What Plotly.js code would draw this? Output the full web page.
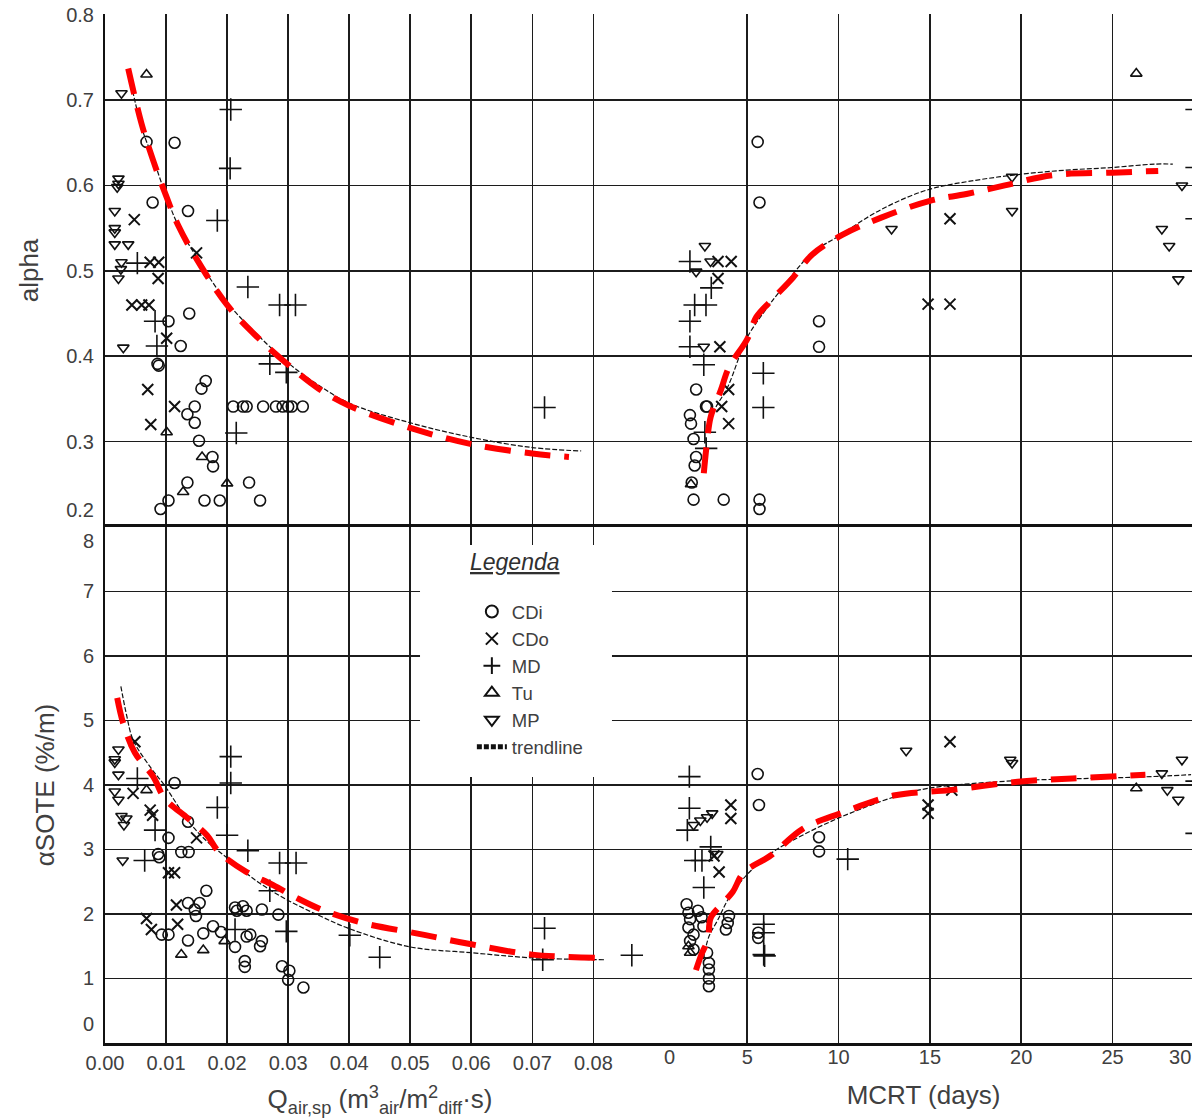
<!DOCTYPE html>
<html>
<head>
<meta charset="utf-8">
<script src="https://cdn.plot.ly/plotly-3.0.1.min.js"></script>
<style>html,body{margin:0;padding:0;background:#fff;overflow:hidden}#chart{width:1192px;height:1118px}</style>
</head>
<body>
<div id="chart"></div>
<script>
// ---------- tick labels ----------
var qTickVals = [0, 0.01, 0.02, 0.03, 0.04, 0.05, 0.06, 0.07, 0.08, 0.09];
var qTickText = ['0.00','0.01','0.02','0.03','0.04','0.05','0.06','0.07','0.08',' '];
var mcrtGridVals = [0, 5, 10, 15, 20, 25];
var mcrtLabelVals = [0.75, 5, 10, 15, 20, 25, 28.7];
var mcrtLabelText = ['0','5','10','15','20','25','30'];
var alphaGridVals = [0.2, 0.3, 0.4, 0.5, 0.6, 0.7, 0.8];
var alphaLabelVals = [0.22, 0.3, 0.4, 0.5, 0.6, 0.7, 0.8];
var alphaLabelText = ['0.2','0.3','0.4','0.5','0.6','0.7','0.8'];
var soteGridVals = [0, 1, 2, 3, 4, 5, 6, 7, 8];
var soteLabelVals = [0.3, 1, 2, 3, 4, 5, 6, 7, 7.78];
var soteLabelText = ['0','1','2','3','4','5','6','7','8'];

// ---------- series names ----------
var seriesNames = ['CDi', 'CDo', 'MD', 'Tu', 'MP'];
var legendTitle = 'Legenda';

// ---------- alpha vs Q (top left) ----------
var tl_CDi_x = [0.0068,0.0114,0.0078,0.0136,0.0104,0.0138,0.0124,0.0086,0.0088,0.0165,0.0158,0.0147,0.0135,0.0147,0.0154,0.0176,0.0177,0.0135,0.0236,0.0104,0.0091,0.0163,0.0188,0.0254,0.0210,0.0226,0.0232,0.0259,0.0280,0.0291,0.0300,0.0306,0.0324];
var tl_CDi_y = [0.651,0.650,0.580,0.570,0.441,0.450,0.412,0.391,0.389,0.371,0.362,0.341,0.332,0.322,0.301,0.282,0.271,0.252,0.252,0.231,0.221,0.231,0.231,0.231,0.341,0.341,0.341,0.341,0.341,0.341,0.341,0.341,0.341];
var tl_CDo_x = [0.0048,0.0074,0.0088,0.0087,0.0150,0.0044,0.0060,0.0072,0.0101,0.0070,0.0114,0.0075];
var tl_CDo_y = [0.560,0.510,0.510,0.491,0.521,0.460,0.460,0.460,0.421,0.361,0.341,0.320];
var tl_MD_x = [0.0206,0.0205,0.0184,0.0053,0.0234,0.0286,0.0312,0.0082,0.0085,0.0270,0.0297,0.0215,0.0720];
var tl_MD_y = [0.689,0.620,0.559,0.509,0.481,0.460,0.460,0.441,0.412,0.391,0.381,0.310,0.340];
var tl_Tu_x = [0.0068,0.0101,0.0159,0.0200,0.0128];
var tl_Tu_y = [0.730,0.311,0.282,0.251,0.241];
var tl_MP_x = [0.0027,0.0022,0.0022,0.0020,0.0016,0.0016,0.0016,0.0016,0.0038,0.0027,0.0026,0.0022,0.0030];
var tl_MP_y = [0.708,0.608,0.602,0.598,0.570,0.550,0.545,0.531,0.531,0.510,0.502,0.491,0.410];
var tl_trend_x = [0.0038,0.006,0.008,0.010,0.012,0.015,0.020,0.025,0.030,0.035,0.040,0.050,0.060,0.070,0.078];
var tl_trend_y = [0.735,0.668,0.629,0.588,0.553,0.516,0.463,0.425,0.392,0.366,0.345,0.322,0.305,0.293,0.289];
var tl_fit_x = [0.0038,0.006,0.008,0.010,0.012,0.015,0.020,0.025,0.030,0.035,0.040,0.050,0.060,0.070,0.076];
var tl_fit_y = [0.737,0.672,0.627,0.588,0.553,0.514,0.460,0.422,0.390,0.362,0.342,0.316,0.297,0.286,0.282];

// ---------- alphaSOTE vs Q (bottom left) ----------
var bl_CDi_x = [0.0114,0.0104,0.0136,0.0087,0.0089,0.0125,0.0137,0.0166,0.0136,0.0155,0.0147,0.0149,0.0213,0.0226,0.0232,0.0216,0.0257,0.0284,0.0093,0.0104,0.0136,0.0161,0.0177,0.0190,0.0213,0.0232,0.0238,0.0257,0.0254,0.0229,0.0229,0.0290,0.0302,0.0300,0.0325];
var bl_CDi_y = [4.03,3.18,3.43,2.93,2.88,2.96,2.96,2.36,2.17,2.17,2.07,1.97,2.10,2.12,2.05,2.05,2.07,1.99,1.68,1.68,1.59,1.70,1.81,1.72,1.49,1.65,1.68,1.58,1.50,1.27,1.18,1.19,1.12,0.98,0.86];
var bl_CDo_x = [0.0049,0.0046,0.0074,0.0078,0.0150,0.0104,0.0114,0.0117,0.0068,0.0076,0.0119];
var bl_CDo_y = [4.67,3.87,3.61,3.53,3.18,2.64,2.64,2.14,1.93,1.76,1.84];
var bl_MD_x = [0.0206,0.0206,0.0053,0.0184,0.0200,0.0082,0.0234,0.0065,0.0286,0.0313,0.0270,0.0297,0.0213,0.0401,0.0450,0.0720,0.0717,0.0863];
var bl_MD_y = [4.44,4.03,4.10,3.65,3.22,3.30,2.98,2.83,2.79,2.79,2.36,1.73,1.76,1.67,1.33,1.78,1.29,1.36];
var bl_Tu_x = [0.0068,0.0125,0.0161,0.0196];
var bl_Tu_y = [3.92,1.37,1.44,1.58];
var bl_MP_x = [0.0022,0.0016,0.0016,0.0022,0.0016,0.0022,0.0027,0.0035,0.0031,0.0029];
var bl_MP_y = [4.55,4.40,4.35,4.16,3.90,3.77,3.52,3.48,3.38,2.83];
var bl_trend_x = [0.0026,0.0035,0.0046,0.0074,0.0097,0.0139,0.0170,0.0200,0.0250,0.0298,0.0350,0.0398,0.0500,0.0600,0.0700,0.0820];
var bl_trend_y = [5.53,5.10,4.70,4.28,4.00,3.41,3.10,2.87,2.50,2.22,1.98,1.78,1.49,1.40,1.32,1.29];
var bl_fit_x = [0.0020,0.0030,0.0049,0.0079,0.0098,0.0136,0.0167,0.0183,0.0196,0.0232,0.0275,0.0314,0.0357,0.0423,0.0510,0.0600,0.0700,0.0805];
var bl_fit_y = [5.35,4.95,4.50,4.13,3.79,3.48,3.22,3.00,2.88,2.65,2.45,2.25,2.06,1.86,1.70,1.53,1.37,1.32];

// ---------- alpha vs MCRT (top right) ----------
var tr_CDi_x = [5.57,5.67,8.93,8.93,2.20,2.74,2.80,1.86,1.92,2.06,2.20,2.12,1.96,2.06,3.71,5.67,5.67];
var tr_CDi_y = [0.651,0.580,0.441,0.411,0.361,0.341,0.341,0.331,0.321,0.303,0.282,0.272,0.252,0.232,0.232,0.232,0.221];
var tr_CDo_x = [4.12,3.40,3.40,3.50,3.98,3.60,3.98,14.9,16.1,16.1];
var tr_CDo_y = [0.511,0.511,0.491,0.411,0.361,0.341,0.321,0.461,0.461,0.561];
var tr_MD_x = [1.86,3.03,2.12,2.74,1.86,1.86,2.62,5.88,5.88,2.68,2.75,29.6,29.6,29.6];
var tr_MD_y = [0.511,0.480,0.460,0.460,0.441,0.411,0.390,0.380,0.340,0.311,0.292,0.689,0.621,0.561];
var tr_Tu_x = [26.3,1.92];
var tr_Tu_y = [0.731,0.250];
var tr_MP_x = [2.68,2.99,2.20,2.62,12.9,19.5,19.5,28.8,27.7,28.1,28.6];
var tr_MP_y = [0.529,0.511,0.499,0.411,0.549,0.570,0.610,0.600,0.549,0.529,0.490];
var tr_trend_x = [2.73,3.2,3.93,5.0,6.1,6.67,8.5,9.95,12.35,14.9,17.5,19.95,22.5,24.97,27.3,28.3];
var tr_trend_y = [0.310,0.337,0.364,0.422,0.457,0.473,0.520,0.540,0.572,0.595,0.606,0.613,0.618,0.621,0.625,0.625];
var tr_fit_x = [2.62,2.8,3.0,3.55,4.0,5.0,5.5,6.3,7.5,8.56,10.2,12.3,15.0,17.0,19.1,21.7,25.0,27.5];
var tr_fit_y = [0.263,0.300,0.329,0.360,0.387,0.420,0.446,0.465,0.492,0.519,0.542,0.562,0.582,0.590,0.600,0.612,0.615,0.617];

// ---------- alphaSOTE vs MCRT (bottom right) ----------
var br_CDi_x = [5.57,5.64,8.93,8.93,3.83,3.93,4.00,5.60,5.60,1.68,1.78,1.87,1.78,2.06,1.87,2.06,2.80,2.90,2.90,2.90,2.90,2.60,2.30,2.50];
var br_CDi_y = [4.17,3.69,3.19,2.97,1.76,1.86,1.97,1.71,1.63,2.15,2.02,1.92,1.79,1.68,1.58,1.45,1.40,1.24,1.14,1.00,0.88,1.81,2.05,1.95];
var br_CDo_x = [4.10,4.10,3.46,3.18,14.9,14.9,16.2,16.1];
var br_CDo_y = [3.69,3.48,2.65,2.90,3.69,3.56,3.92,4.67];
var br_MD_x = [1.83,1.83,1.72,3.00,2.52,2.15,2.62,10.5,5.90,5.90,5.90,5.95,29.6,29.6];
var br_MD_y = [4.13,3.64,3.30,3.04,2.83,2.83,2.41,2.85,1.84,1.71,1.37,1.35,4.06,3.25];
var br_Tu_x = [1.87,1.78,26.3];
var br_Tu_y = [1.40,1.50,3.95];
var br_MP_x = [2.06,2.43,2.80,3.08,3.36,13.7,19.5,19.4,27.7,28.0,28.6,28.8];
var br_MP_y = [3.38,3.45,3.50,3.56,2.93,4.53,4.34,4.39,4.18,3.92,3.77,4.39];
var br_trend_x = [2.6,2.9,3.39,4.0,4.95,6.3,7.48,9.94,13.1,14.95,18.7,22.0,25.0,28.0,29.3];
var br_trend_y = [1.30,1.65,1.91,2.25,2.60,2.94,3.14,3.48,3.82,3.95,4.05,4.09,4.11,4.14,4.16];
var br_fit_x = [2.19,2.5,2.84,3.0,3.6,4.2,4.8,6.3,8.04,10.1,13.1,16.1,19.8,22.8,26.8];
var br_fit_y = [1.13,1.38,1.60,1.94,2.15,2.34,2.64,2.91,3.32,3.56,3.84,3.92,4.05,4.10,4.16];

// ---------- styles ----------
var ink = '#111111';
var textGray = '#404040';
var fontFam = 'Liberation Sans, Arial, Helvetica, sans-serif';
var symbols = {
  CDi: {symbol: 'circle-open', size: 11, lw: 1.6},
  CDo: {symbol: 'x-thin-open', size: 11, lw: 2},
  MD:  {symbol: 'cross-thin-open', size: 16, lw: 1.6},
  Tu:  {symbol: 'triangle-up-open', size: 10, lw: 1.6},
  MP:  {symbol: 'triangle-down-open', size: 10, lw: 1.6}
};

var panels = [
  {xa: 'x',  ya: 'y',  legend: true,
   data: {CDi: [tl_CDi_x, tl_CDi_y], CDo: [tl_CDo_x, tl_CDo_y], MD: [tl_MD_x, tl_MD_y], Tu: [tl_Tu_x, tl_Tu_y], MP: [tl_MP_x, tl_MP_y]},
   trend: [tl_trend_x, tl_trend_y], fit: [tl_fit_x, tl_fit_y]},
  {xa: 'x',  ya: 'y2', legend: false,
   data: {CDi: [bl_CDi_x, bl_CDi_y], CDo: [bl_CDo_x, bl_CDo_y], MD: [bl_MD_x, bl_MD_y], Tu: [bl_Tu_x, bl_Tu_y], MP: [bl_MP_x, bl_MP_y]},
   trend: [bl_trend_x, bl_trend_y], fit: [bl_fit_x, bl_fit_y]},
  {xa: 'x2', ya: 'y',  legend: false,
   data: {CDi: [tr_CDi_x, tr_CDi_y], CDo: [tr_CDo_x, tr_CDo_y], MD: [tr_MD_x, tr_MD_y], Tu: [tr_Tu_x, tr_Tu_y], MP: [tr_MP_x, tr_MP_y]},
   trend: [tr_trend_x, tr_trend_y], fit: [tr_fit_x, tr_fit_y]},
  {xa: 'x2', ya: 'y2', legend: false,
   data: {CDi: [br_CDi_x, br_CDi_y], CDo: [br_CDo_x, br_CDo_y], MD: [br_MD_x, br_MD_y], Tu: [br_Tu_x, br_Tu_y], MP: [br_MP_x, br_MP_y]},
   trend: [br_trend_x, br_trend_y], fit: [br_fit_x, br_fit_y]}
];

var traces = [];
panels.forEach(function(p){
  seriesNames.forEach(function(n){
    var s = symbols[n];
    traces.push({
      type: 'scatter', mode: 'markers', name: n, legendgroup: n,
      showlegend: p.legend, xaxis: p.xa, yaxis: p.ya,
      x: p.data[n][0], y: p.data[n][1],
      marker: {symbol: s.symbol, size: s.size, color: ink, line: {color: ink, width: s.lw}}
    });
  });
});
panels.forEach(function(p){
  traces.push({
    type: 'scatter', mode: 'lines', name: 'trendline', legendgroup: 'trend',
    showlegend: p.legend, xaxis: p.xa, yaxis: p.ya,
    x: p.trend[0], y: p.trend[1], line: {color: ink, width: 1.2, dash: '5px,2px', shape: 'spline'}
  });
});
panels.forEach(function(p){
  traces.push({
    type: 'scatter', mode: 'lines', name: 'fit', showlegend: false, xaxis: p.xa, yaxis: p.ya,
    x: p.fit[0], y: p.fit[1], line: {color: '#ff0000', width: 6, dash: '26px,14px', shape: 'spline'}
  });
});
// carriers for the label-only overlay axes
traces.push({type: 'scatter', mode: 'markers', x: [], y: [], xaxis: 'x3', yaxis: 'y2', showlegend: false, hoverinfo: 'skip'});
traces.push({type: 'scatter', mode: 'markers', x: [], y: [], xaxis: 'x', yaxis: 'y3', showlegend: false, hoverinfo: 'skip'});
traces.push({type: 'scatter', mode: 'markers', x: [], y: [], xaxis: 'x', yaxis: 'y4', showlegend: false, hoverinfo: 'skip'});

var gridCol = '#1c1c1c';
var tickFont = {family: fontFam, size: 20, color: textGray};
var titleFont = {family: fontFam, size: 26, color: textGray};
var xSplit = 0.506, ySplit = 0.5015;

var layout = {
  width: 1192, height: 1118,
  margin: {l: 105, r: 0, t: 14, b: 75},
  paper_bgcolor: '#ffffff', plot_bgcolor: '#ffffff',
  font: {family: fontFam, color: textGray},
  showlegend: true,
  xaxis: {
    domain: [0, xSplit], anchor: 'y2', range: [0, 0.0901],
    tickmode: 'array', tickvals: qTickVals, ticktext: qTickText, ticks: '',
    tickfont: tickFont, showgrid: true, gridcolor: gridCol, gridwidth: 1.6, zeroline: false,
    showline: true, linecolor: ink, linewidth: 2.6, mirror: true,
    title: {text: 'Q<sub>air,sp</sub> (m<sup>3</sup><sub>air</sub>/m<sup>2</sup><sub>diff</sub>·s)', font: titleFont, standoff: 18}
  },
  xaxis2: {
    domain: [xSplit, 1], anchor: 'y2', range: [-0.05, 29.35],
    tickmode: 'array', tickvals: mcrtGridVals, showticklabels: false, ticks: '',
    showgrid: true, gridcolor: gridCol, gridwidth: 1.6, zeroline: false,
    showline: true, linecolor: ink, linewidth: 2.6, mirror: true
  },
  xaxis3: {
    overlaying: 'x2', anchor: 'y2', range: [-0.05, 29.35],
    tickmode: 'array', tickvals: mcrtLabelVals, ticktext: mcrtLabelText, ticks: '',
    ticklabeloverflow: 'allow',
    tickfont: tickFont, showgrid: false, zeroline: false, showline: false,
    title: {text: 'MCRT (days)', font: titleFont, standoff: 18}
  },
  yaxis: {
    domain: [ySplit, 1], anchor: 'x', range: [0.2, 0.8008],
    tickmode: 'array', tickvals: alphaGridVals, showticklabels: false, ticks: '',
    showgrid: true, gridcolor: gridCol, gridwidth: 1.6, zeroline: false,
    showline: true, linecolor: ink, linewidth: 2.2
  },
  yaxis3: {
    overlaying: 'y', anchor: 'x', side: 'left', range: [0.2, 0.8008],
    tickmode: 'array', tickvals: alphaLabelVals, ticktext: alphaLabelText, ticks: '',
    ticklabelstandoff: 10, tickfont: tickFont, showgrid: false, zeroline: false, showline: false,
    title: {text: 'alpha', font: titleFont, standoff: 20}
  },
  yaxis2: {
    domain: [0, ySplit], anchor: 'x', range: [0, 8],
    tickmode: 'array', tickvals: soteGridVals, showticklabels: false, ticks: '',
    showgrid: true, gridcolor: gridCol, gridwidth: 1.6, zeroline: false,
    showline: true, linecolor: ink, linewidth: 2.2
  },
  yaxis4: {
    overlaying: 'y2', anchor: 'x', side: 'left', range: [0, 8],
    tickmode: 'array', tickvals: soteLabelVals, ticktext: soteLabelText, ticks: '',
    ticklabelstandoff: 10, tickfont: tickFont, showgrid: false, zeroline: false, showline: false,
    title: {text: 'αSOTE (%/m)', font: titleFont, standoff: 20}
  },
  legend: {
    x: 0.3375, y: 0.4373, xanchor: 'left', yanchor: 'top',
    bgcolor: 'rgba(255,255,255,0)', borderwidth: 0,
    font: {family: fontFam, size: 18.5, color: textGray},
    itemsizing: 'constant', tracegroupgap: 0
  },
  annotations: [{
    text: legendTitle, xref: 'paper', yref: 'paper', x: 0.3772, y: 0.4674,
    xanchor: 'center', yanchor: 'middle', showarrow: false,
    font: {family: fontFam, size: 23, color: '#303030', style: 'italic', lineposition: 'under'}
  }],
  shapes: [{
    type: 'rect', xref: 'paper', yref: 'paper', x0: 0.2898, x1: 0.4664, y0: 0.2585, y1: 0.484,
    fillcolor: '#ffffff', line: {width: 0}, layer: 'above'
  }]
};

Plotly.newPlot('chart', traces, layout, {staticPlot: true, displayModeBar: false});
</script>
</body>
</html>
